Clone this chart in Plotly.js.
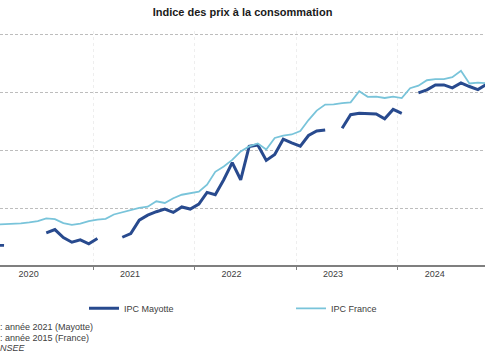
<!DOCTYPE html>
<html>
<head>
<meta charset="utf-8">
<script src="https://cdn.plot.ly/plotly-3.0.1.min.js"></script>
<style>
html,body{margin:0;padding:0;background:#fff;}
#chart{width:485px;height:360px;}
</style>
</head>
<body>
<div id="chart"></div>
<script>
// Months (monthly data, Jan 2020 – Nov 2024)
var months = [
  "2020-01","2020-02","2020-03","2020-04","2020-05","2020-06","2020-07","2020-08","2020-09","2020-10","2020-11","2020-12",
  "2021-01","2021-02","2021-03","2021-04","2021-05","2021-06","2021-07","2021-08","2021-09","2021-10","2021-11","2021-12",
  "2022-01","2022-02","2022-03","2022-04","2022-05","2022-06","2022-07","2022-08","2022-09","2022-10","2022-11","2022-12",
  "2023-01","2023-02","2023-03","2023-04","2023-05","2023-06","2023-07","2023-08","2023-09","2023-10","2023-11","2023-12",
  "2024-01","2024-02","2024-03","2024-04","2024-05","2024-06","2024-07","2024-08","2024-09","2024-10","2024-11"
];

// IPC Mayotte (gaps = missing months)
var ipcMayotte = [
  96.87, 96.85, null, null, null, null, 97.92, 98.20, 97.51, 97.11, 97.32, 96.98,
  97.43, null, null, 97.54, 97.86, 99.01, 99.44, 99.74, 99.96, 99.68, 100.15, 99.97,
  100.39, 101.40, 101.20, 102.49, 103.97, 102.49, 105.36, 105.49, 104.16, 104.67, 105.98, 105.66,
  105.38, 106.30, 106.69, 106.77, null, 106.92, 108.09, 108.21, 108.17, 108.15, 107.74, 108.55,
  108.21, null, 109.97, 110.23, 110.66, 110.66, 110.40, 110.83, 110.52, 110.25, 110.70
];

// IPC France
var ipcFrance = [
  98.63, 98.65, 98.69, 98.74, 98.82, 98.93, 99.17, 99.10, 98.76, 98.60, 98.71, 98.93,
  99.06, 99.12, 99.50, 99.68, 99.91, 100.06, 100.17, 100.64, 100.49, 100.90, 101.20, 101.33,
  101.46, 102.06, 103.17, 103.64, 104.20, 104.93, 105.36, 105.62, 105.10, 106.09, 106.30, 106.39,
  106.69, 107.63, 108.45, 108.96, 108.98, 109.09, 109.15, 110.12, 109.63, 109.65, 109.53, 109.65,
  109.52, 110.37, 110.59, 111.06, 111.15, 111.15, 111.32, 111.88, 110.78, 110.85, 110.80
];

// Year labels
var yearLabels = ["2020", "2021", "2022", "2023", "2024"];
var yearLabelPos = ["2020-05-14", "2021-05-14", "2022-05-14", "2023-05-14", "2024-05-14"];

var seriesNames = ["IPC Mayotte", "IPC France"];
var notes = [": année 2021 (Mayotte)", ": année 2015 (France)", "NSEE"];

var traces = [
  {
    x: months, y: ipcMayotte, name: seriesNames[0], type: "scatter", mode: "lines",
    xperiod: "M1", xperiodalignment: "middle", connectgaps: false,
    line: {color: "#284a8e", width: 3}
  },
  {
    x: months, y: ipcFrance, name: seriesNames[1], type: "scatter", mode: "lines",
    xperiod: "M1", xperiodalignment: "middle", connectgaps: false,
    line: {color: "#79c4da", width: 1.8}
  }
];

var txt = "#404040";
var plotTop = 30.5, plotBottom = 265.5, yMin = 95.15, yMax = 115.3;
var plotH = plotBottom - plotTop;
function py(p) { return (plotBottom - p) / plotH; }

var layout = {
  width: 485, height: 360,
  margin: {l: 0, r: 0, t: plotTop, b: 360 - plotBottom, pad: 0, autoexpand: false},
  paper_bgcolor: "#ffffff", plot_bgcolor: "#ffffff",
  font: {family: "Liberation Sans, Arial, sans-serif", size: 9, color: txt},
  title: {
    text: "<b>Indice des prix à la consommation</b>",
    font: {family: "Liberation Sans, Arial, sans-serif", size: 11, color: "#1a1a1a"},
    x: 0.5, xanchor: "center", y: 1 - 12/360, yanchor: "middle", xref: "container", yref: "container"
  },
  showlegend: true,
  legend: {
    orientation: "h", x: 84/485, xanchor: "left", y: py(309), yanchor: "middle",
    entrywidth: 162, entrywidthmode: "pixels", font: {size: 9, color: txt},
    bgcolor: "rgba(0,0,0,0)", borderwidth: 0, itemwidth: 30
  },
  xaxis: {
    type: "date",
    range: ["2020-02-01", "2024-11-11"],
    tickmode: "array", tickvals: yearLabelPos, ticktext: yearLabels,
    ticks: "", showgrid: false, zeroline: false,
    tickfont: {size: 9, color: txt},
    showline: true, linecolor: "#7f7f7f", linewidth: 1.5,
    minor: {
      tickmode: "linear", tick0: "2020-01-01", dtick: "M12",
      ticks: "outside", ticklen: 3, tickcolor: "#7f7f7f", tickwidth: 1,
      showgrid: true, gridcolor: "#eeeeee", gridwidth: 1, griddash: "dot"
    },
    fixedrange: true
  },
  yaxis: {
    range: [yMin, yMax],
    tickmode: "array", tickvals: [100, 105, 110, 115],
    showticklabels: false, ticks: "",
    showgrid: true, gridcolor: "#bdbdbd", gridwidth: 1, griddash: "3px,2px",
    zeroline: false, showline: false, fixedrange: true
  },
  annotations: [
    {text: notes[0], xref: "paper", yref: "paper", x: 0, y: py(328), xanchor: "left", yanchor: "middle", showarrow: false, xshift: -2, font: {size: 9, color: txt}},
    {text: notes[1], xref: "paper", yref: "paper", x: 0, y: py(339), xanchor: "left", yanchor: "middle", showarrow: false, xshift: -2, font: {size: 9, color: txt}},
    {text: "<i>" + notes[2] + "</i>", xref: "paper", yref: "paper", x: 0, y: py(349), xanchor: "left", yanchor: "middle", showarrow: false, xshift: -2, font: {size: 9, color: txt}}
  ]
};

Plotly.newPlot("chart", traces, layout, {staticPlot: true, displayModeBar: false});
</script>
</body>
</html>
